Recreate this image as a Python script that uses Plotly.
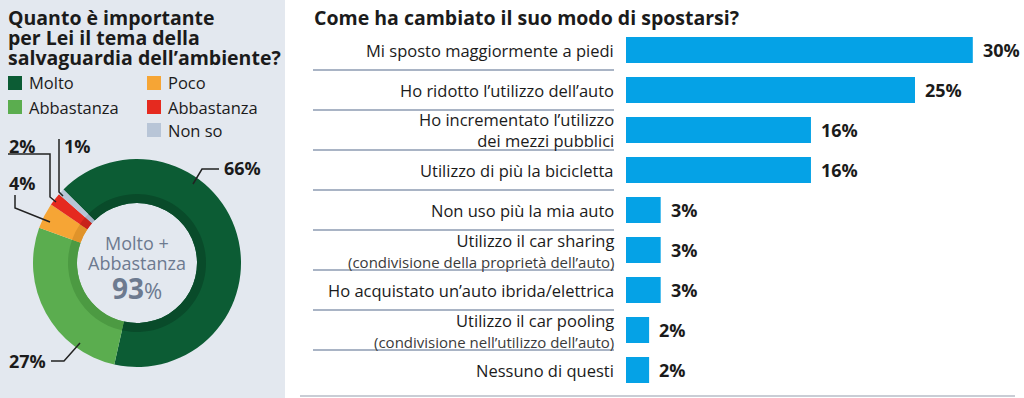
import plotly.graph_objects as go

W, H = 1024, 398

# ---------------- data ----------------
pie_names = ["Molto", "Abbastanza", "Poco", "Abbastanza", "Non so"]
pie_values = [66, 27, 4, 2, 1]
pie_colors = ["#0c5c34", "#5bad4f", "#f6a535", "#e52a1f", "#b8c5d7"]
pie_inner_colors = ["#094b2a", "#4c9a42", "#e0932a", "#c8231a", "#a3b1c4"]
pie_center_total = 93

bar_labels = [
    "Mi sposto maggiormente a piedi",
    "Ho ridotto l’utilizzo dell’auto",
    "Ho incrementato l’utilizzo<br>dei mezzi pubblici",
    "Utilizzo di più la bicicletta",
    "Non uso più la mia auto",
    "Utilizzo il car sharing",
    "Ho acquistato un’auto ibrida/elettrica",
    "Utilizzo il car pooling",
    "Nessuno di questi",
]
bar_sublabels = ["", "", "", "", "",
                 "(condivisione della proprietà dell’auto)", "",
                 "(condivisione nell’utilizzo dell’auto)", ""]
bar_values = [30, 25, 16, 16, 3, 3, 3, 2, 2]

title_left = ["Quanto è importante", "per Lei il tema della", "salvaguardia dell’ambiente?"]
title_right = "Come ha cambiato il suo modo di spostarsi?"

FONT = "Open Sans"
DARK = "#1b1b1b"


def px(x):
    return x / W


def py(y):
    return 1 - y / H


fig = go.Figure()

# ---------- donut ----------
cx, cy, R, r_in, r_band = 137, 263, 104, 60, 69
fig.add_trace(go.Pie(
    values=pie_values, labels=[f"{n} {i}" for i, n in enumerate(pie_names)],
    marker=dict(colors=pie_colors, line=dict(width=0)),
    hole=r_in / R, sort=False, direction="clockwise", rotation=-45,
    textinfo="none", hoverinfo="skip", showlegend=False,
    domain=dict(x=[px(cx - R), px(cx + R)], y=[py(cy + R), py(cy - R)]),
))
fig.add_trace(go.Pie(
    values=pie_values, labels=[f"{n} {i}" for i, n in enumerate(pie_names)],
    marker=dict(colors=pie_inner_colors, line=dict(width=0)),
    hole=r_in / r_band, sort=False, direction="clockwise", rotation=-45,
    textinfo="none", hoverinfo="skip", showlegend=False,
    domain=dict(x=[px(cx - r_band), px(cx + r_band)], y=[py(cy + r_band), py(cy - r_band)]),
))

# ---------- bars ----------
fig.add_trace(go.Bar(
    x=bar_values, y=bar_labels, orientation="h",
    marker=dict(color="#05a2e6", line=dict(width=0)),
    width=0.65, hoverinfo="skip", showlegend=False,
))

bar_x0 = 626
px_per_pct = 11.56
fig.update_layout(
    width=W, height=H,
    margin=dict(l=0, r=0, t=0, b=0),
    paper_bgcolor="white", plot_bgcolor="rgba(0,0,0,0)",
    font=dict(family=FONT, color=DARK),
    xaxis=dict(domain=[px(bar_x0), 1], range=[0, (W - bar_x0) / px_per_pct],
               visible=False, fixedrange=True),
    yaxis=dict(domain=[py(390), py(30)], autorange="reversed", visible=False,
               categoryorder="array", categoryarray=bar_labels, fixedrange=True),
)

shapes = []
ann = []

# left panel background
shapes.append(dict(type="rect", xref="paper", yref="paper", x0=0, x1=px(285), y0=0, y1=1,
                   fillcolor="#e3e8ef", line=dict(width=0), layer="below"))

# left title
for i, t in enumerate(title_left):
    ann.append(dict(text=f"<b>{t}</b>", xref="paper", yref="paper", x=px(6), y=py(17 + 20 * i),
                    xanchor="left", yanchor="middle", showarrow=False,
                    font=dict(size=19.5, color=DARK, family=FONT)))

# legend (custom)
leg_pos = [(8, 83), (8, 107), (147, 83), (147, 107), (147, 130)]
for (lx, ly), name, col in zip(leg_pos, pie_names, pie_colors):
    shapes.append(dict(type="rect", xref="paper", yref="paper",
                       x0=px(lx), x1=px(lx + 14), y0=py(ly + 7), y1=py(ly - 7),
                       fillcolor=col, line=dict(width=0)))
    ann.append(dict(text=name, xref="paper", yref="paper", x=px(lx + 19), y=py(ly),
                    xanchor="left", yanchor="middle", showarrow=False,
                    font=dict(size=16.5, color=DARK, family=FONT)))

# donut labels with leader lines
pct_labels = [
    (f"{pie_values[0]}%", 222, 168, "left"),
    (f"{pie_values[1]}%", 48, 361, "right"),
    (f"{pie_values[2]}%", 7, 183, "left"),
    (f"{pie_values[3]}%", 7, 146, "left"),
    (f"{pie_values[4]}%", 62, 146, "left"),
]
for t, x, y, anc in pct_labels:
    ann.append(dict(text=f"<b>{t}</b>", xref="paper", yref="paper", x=px(x), y=py(y),
                    xanchor=anc, yanchor="middle", showarrow=False,
                    font=dict(size=18, color=DARK, family=FONT)))

leaders = [
    [(219, 169), (202, 169), (193, 184)],
    [(51, 361), (64, 361), (80, 343)],
    [(15, 195), (15, 208), (50, 222)],
    [(8, 154), (50, 154), (50, 197), (56, 202)],
    [(59, 139), (59, 192), (63, 196)],
]
for pts in leaders:
    path = "M " + " L ".join(f"{px(a)},{py(b)}" for a, b in pts)
    shapes.append(dict(type="path", xref="paper", yref="paper", path=path,
                       line=dict(color="#222222", width=1.5)))

# donut center text
ann.append(dict(text="Molto +", xref="paper", yref="paper", x=px(cx), y=py(243),
                xanchor="center", yanchor="middle", showarrow=False,
                font=dict(size=18, color="#6d7a8f", family=FONT)))
ann.append(dict(text="Abbastanza", xref="paper", yref="paper", x=px(cx), y=py(263),
                xanchor="center", yanchor="middle", showarrow=False,
                font=dict(size=18, color="#6d7a8f", family=FONT)))
ann.append(dict(text=f"<b>{pie_center_total}</b><span style='font-size:22px'>%</span>",
                xref="paper", yref="paper", x=px(cx), y=py(288),
                xanchor="center", yanchor="middle", showarrow=False,
                font=dict(size=28, color="#6d7a8f", family=FONT)))

# right title
ann.append(dict(text=f"<b>{title_right}</b>", xref="paper", yref="paper", x=px(312), y=py(17),
                xanchor="left", yanchor="middle", showarrow=False,
                font=dict(size=19.5, color=DARK, family=FONT)))

# bar labels, values, separators
for i, (lab, sub, v) in enumerate(zip(bar_labels, bar_sublabels, bar_values)):
    text = lab
    if sub:
        text = f"{lab}<br><span style='font-size:15px;color:#3a3a3a'>{sub}</span>"
    ann.append(dict(text=text, xref="paper", yref="y", x=px(616), y=lab,
                    xanchor="right", yanchor="middle", align="right", showarrow=False,
                    font=dict(size=16.5, color=DARK, family=FONT)))
    ann.append(dict(text=f"<b>{v}%</b>", xref="x", yref="y", x=v, y=lab, xshift=8,
                    xanchor="left", yanchor="middle", showarrow=False,
                    font=dict(size=18, color=DARK, family=FONT)))
    if i < len(bar_labels) - 1:
        shapes.append(dict(type="line", xref="paper", yref="y", x0=px(313), x1=px(614),
                           y0=i + 0.5, y1=i + 0.5, line=dict(color="#a9b4c5", width=2)))

shapes.append(dict(type="line", xref="paper", yref="paper", x0=px(300), x1=px(1015),
                   y0=py(396), y1=py(396), line=dict(color="#c9cdd5", width=2)))

fig.update_layout(shapes=shapes, annotations=ann)
fig.write_html("out.html", config={"displayModeBar": False},
               post_script="document.body.style.margin='0';document.body.style.overflow='hidden';")
